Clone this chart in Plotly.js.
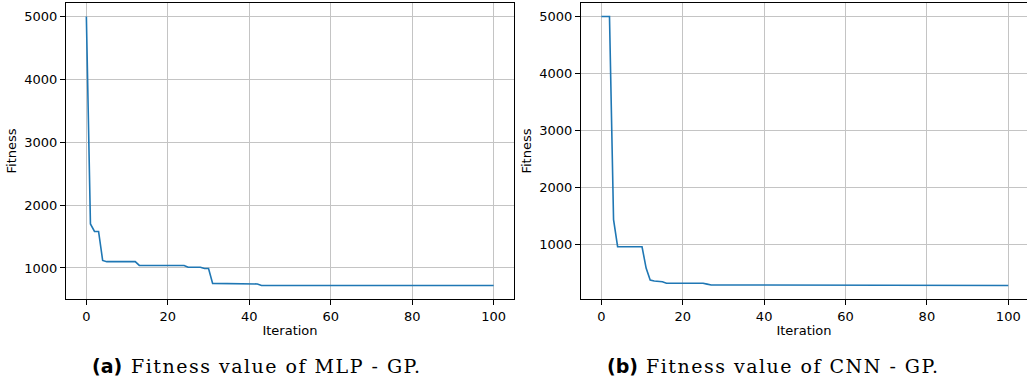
<!DOCTYPE html>
<html>
<head>
<meta charset="utf-8">
<script src="https://cdn.plot.ly/plotly-3.0.1.min.js"></script>
<style>html,body{margin:0;padding:0;background:#fff;}#chart{width:1027px;height:387px;}</style>
</head>
<body>
<div id="chart"></div>
<script>
const iterations = [0,1,2,3,4,5,6,7,8,9,10,11,12,13,14,15,16,17,18,19,20,21,22,23,24,25,26,27,28,29,30,31,32,33,34,35,36,37,38,39,40,41,42,43,44,45,46,47,48,49,50,51,52,53,54,55,56,57,58,59,60,61,62,63,64,65,66,67,68,69,70,71,72,73,74,75,76,77,78,79,80,81,82,83,84,85,86,87,88,89,90,91,92,93,94,95,96,97,98,99,100];

const mlpFitness = [5000,1700,1580,1580,1120,
  1100,1100,1100,1100,1100,1100,1100,1100,
  1040,1040,1040,1040,1040,1040,1040,1040,1040,1040,1040,1040,
  1010,1010,1010,1010,
  990,990,
  755,755,755,755,755,755,755,755,755,755,755,
  745,
  720,720,720,720,720,720,720,720,720,720,720,720,720,720,720,720,720,720,720,720,
  720,720,720,720,720,720,720,720,720,720,720,720,720,720,720,720,720,720,720,720,
  720,720,720,720,720,720,720,720,720,720,720,720,720,720,720,720,720,720];

const cnnFitness = [5000,5000,5000,1440,
  965,965,965,965,965,965,965,
  590,380,365,355,350,
  325,325,325,325,325,325,325,325,325,325,
  310,
  295,295,295,295,295,295,295,295,
  285,285,285,285,285,285,285,285,285,285,285,285,285,285,285,285,285,285,285,285,
  285,285,285,285,285,285,285,285,285,285,285,285,285,285,285,285,285,285,285,285,
  285,285,285,285,285,285,285,285,285,285,285,285,285,285,285,285,285,285,285,285,
  285,285,285,285,285,285];

const xTicks = [0,20,40,60,80,100];
const yTicks = [1000,2000,3000,4000,5000];
const captionA = ["(a)", "Fitness value of MLP - GP."];
const captionB = ["(b)", "Fitness value of CNN - GP."];

const W = 1027, H = 387;
const lineColor = '#1f77b4';
const tickFont = {family: 'DejaVu Sans', size: 13, color: '#000'};

function xax(domain, range) {
  return {
    domain: domain, range: range, tickmode: 'array', tickvals: xTicks,
    showgrid: true, gridcolor: '#c4c4c4', gridwidth: 1, zeroline: false,
    showline: true, mirror: true, linecolor: '#000', linewidth: 1,
    ticks: 'outside', ticklen: 5, tickwidth: 1, tickcolor: '#000',
    tickfont: tickFont, automargin: false,
    title: {text: 'Iteration', font: {family: 'DejaVu Sans', size: 13, color: '#000'}, standoff: 3}
  };
}
function yax(anchor, range) {
  return {
    domain: [(H-299)/H, (H-3)/H], anchor: anchor, range: range,
    tickmode: 'array', tickvals: yTicks,
    showgrid: true, gridcolor: '#c4c4c4', gridwidth: 1, zeroline: false,
    showline: true, mirror: true, linecolor: '#000', linewidth: 1,
    ticks: 'outside', ticklen: 5, tickwidth: 1, tickcolor: '#000',
    tickfont: tickFont, automargin: false,
    title: {text: 'Fitness', font: {family: 'DejaVu Sans', size: 13, color: '#000'}, standoff: 4}
  };
}

const traces = [
  {x: iterations, y: mlpFitness, type: 'scatter', mode: 'lines', line: {color: lineColor, width: 1.6}, xaxis: 'x', yaxis: 'y', showlegend: false},
  {x: iterations, y: cnnFitness, type: 'scatter', mode: 'lines', line: {color: lineColor, width: 1.6}, xaxis: 'x2', yaxis: 'y2', showlegend: false}
];

function cap(parts, xLeft, xSerif) {
  return [
    {text: '<b>' + parts[0] + '</b>', xref: 'paper', yref: 'paper', x: xLeft/W, y: (H-366)/H, xanchor: 'left', yanchor: 'middle', showarrow: false, font: {family: 'DejaVu Sans', size: 19, color: '#000'}},
    {text: '<span style="letter-spacing:1.5px">' + parts[1] + '</span>', xref: 'paper', yref: 'paper', x: xSerif/W, y: (H-366)/H, xanchor: 'left', yanchor: 'middle', showarrow: false, font: {family: 'DejaVu Serif', size: 19, color: '#000'}}
  ];
}

const layout = {
  width: W, height: H,
  margin: {l: 0, r: 0, t: 0, b: 0, pad: 0},
  paper_bgcolor: '#fff', plot_bgcolor: '#fff',
  xaxis: xax([66/W, 514/W], [-5, 105]),
  yaxis: yax('x', [506, 5214]),
  xaxis2: Object.assign(xax([581/W, 1], [-5, 104.6]), {anchor: 'y2'}),
  yaxis2: yax('x2', [49, 5236]),
  annotations: [].concat(cap(captionA, 90, 129), cap(captionB, 605, 644)),
  showlegend: false
};

Plotly.newPlot('chart', traces, layout, {staticPlot: true, displayModeBar: false});
</script>
</body>
</html>
